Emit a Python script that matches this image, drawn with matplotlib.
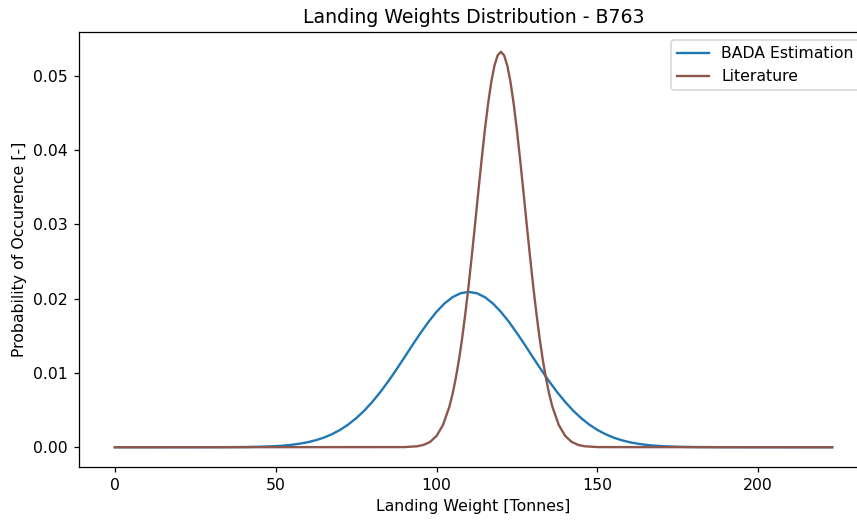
import matplotlib
matplotlib.use("Agg")
import matplotlib.pyplot as plt

# BADA estimation
bada_w = [0, 30, 40, 45, 50, 52.5, 55, 57.5, 60, 62.5, 65, 67.5, 70, 72.5, 75,
          77.5, 80, 82.5, 85, 87.5, 90, 92.5, 95, 97.5, 100, 102.5, 105, 107.5,
          110, 112.5, 115, 117.5, 120, 122.5, 125, 127.5, 130, 132.5, 135,
          137.5, 140, 142.5, 145, 147.5, 150, 152.5, 155, 157.5, 160, 162.5,
          165, 167.5, 170, 175, 180, 190, 223]
bada_p = [0.0, 0.000003, 0.000025, 0.000064, 0.00015, 0.00022, 0.00033, 0.00048,
          0.00068, 0.00095, 0.00130, 0.00176, 0.00233, 0.00304, 0.00390, 0.00491,
          0.00609, 0.00741, 0.00887, 0.01044, 0.01208, 0.01374, 0.01535, 0.01687,
          0.01822, 0.01935, 0.02020, 0.02072, 0.02090, 0.02072, 0.02020, 0.01935,
          0.01822, 0.01687, 0.01535, 0.01374, 0.01208, 0.01044, 0.00887, 0.00741,
          0.00609, 0.00491, 0.00390, 0.00304, 0.00233, 0.00176, 0.00130, 0.00095,
          0.00068, 0.00048, 0.00033, 0.00022, 0.00015, 0.000064, 0.000025,
          0.000003, 0.0]

# Literature distribution
lit_w = [0, 90, 94, 96, 98, 100, 102, 104, 105, 106, 107, 108, 109, 110, 111,
         112, 113, 114, 115, 116, 117, 118, 119, 120, 121, 122, 123, 124, 125,
         126, 127, 128, 129, 130, 131, 132, 133, 134, 135, 136, 138, 140, 142,
         144, 146, 150, 223]
lit_p = [0.0, 0.00002, 0.00013, 0.00032, 0.00072, 0.00152, 0.00299, 0.00547,
         0.00720, 0.00932, 0.01184, 0.01479, 0.01815, 0.02187, 0.02590, 0.03012,
         0.03442, 0.03863, 0.04260, 0.04615, 0.04911, 0.05134, 0.05273, 0.05320,
         0.05273, 0.05134, 0.04911, 0.04615, 0.04260, 0.03863, 0.03442, 0.03012,
         0.02590, 0.02187, 0.01815, 0.01479, 0.01184, 0.00932, 0.00720, 0.00547,
         0.00299, 0.00152, 0.00072, 0.00032, 0.00013, 0.00002, 0.0]

DPI = 113
fig = plt.figure(figsize=(857 / DPI, 520 / DPI), dpi=DPI)
# axes runs a little past the right edge, as in the reference
ax = fig.add_axes([0.0922, 0.1019, 0.9207, 0.8365])

ax.plot(bada_w, bada_p, color="tab:blue", label="BADA Estimation")
ax.plot(lit_w, lit_p, color="tab:brown", label="Literature")

ax.set_title("Landing Weights Distribution - B763")
ax.set_xlabel("Landing Weight [Tonnes]")
ax.set_ylabel("Probability of Occurence [-]")
ax.legend(loc="upper right")

fig.savefig("out.png", dpi=DPI)
